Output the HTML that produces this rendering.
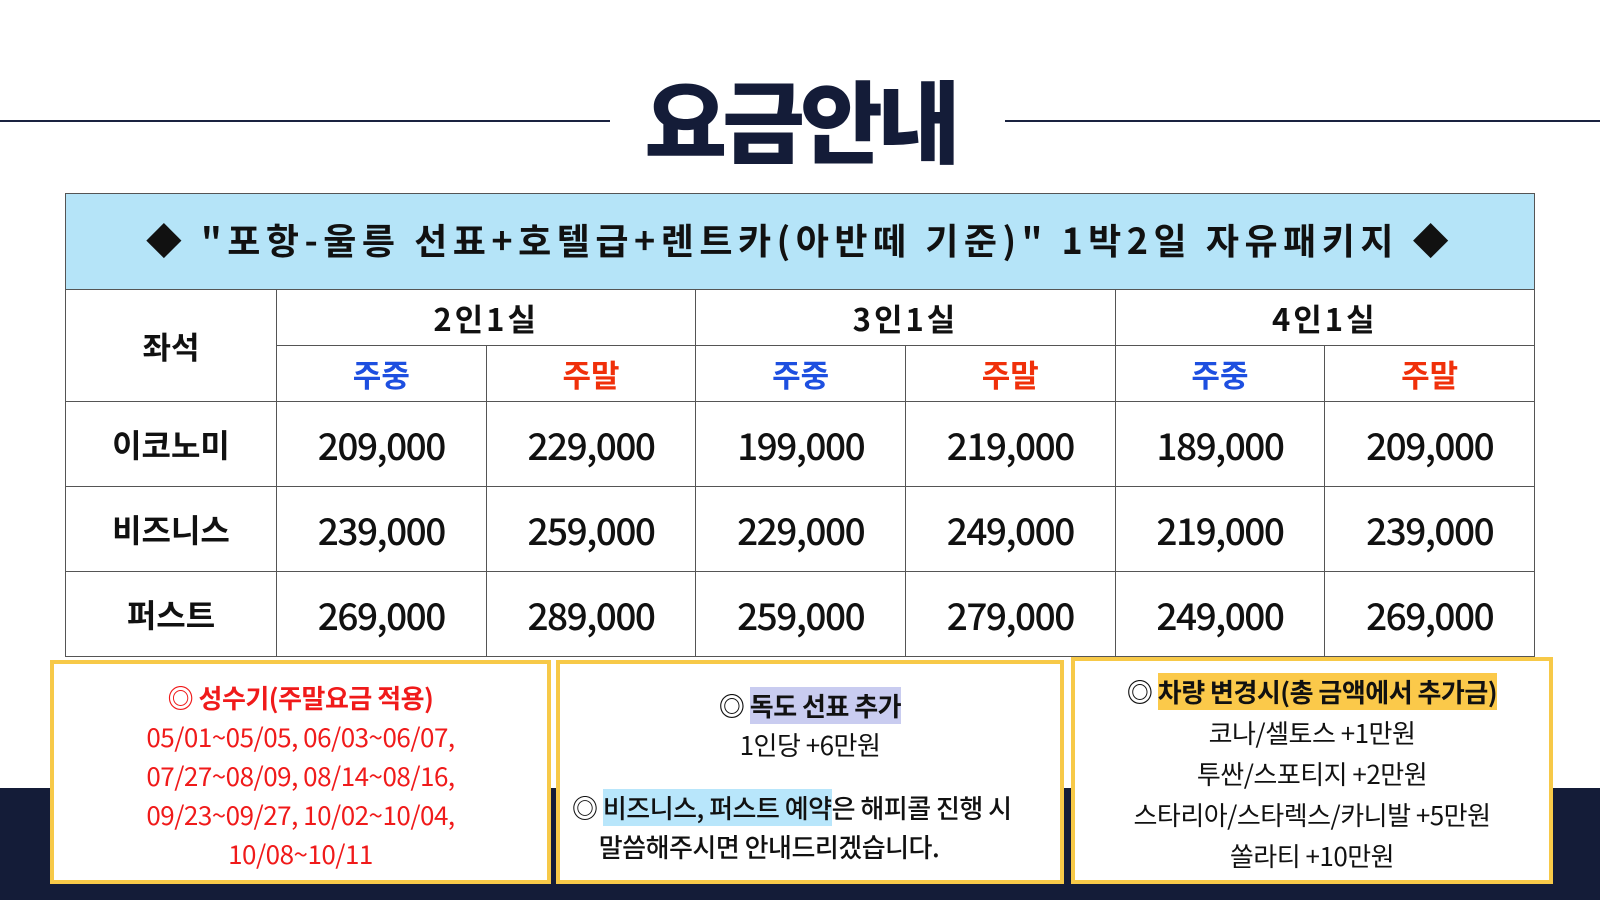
<!DOCTYPE html>
<html><head><meta charset="utf-8"><style>
*{margin:0;padding:0;box-sizing:border-box}
body{width:1600px;height:900px;position:relative;background:#fff;overflow:hidden;font-family:"Liberation Sans","Noto Sans CJK KR",sans-serif;color:#111}
.band{position:absolute;left:0;top:788px;width:1600px;height:112px;background:#141c38}
.line{position:absolute;top:120px;height:2px;background:#1a2340}
.title{position:absolute;left:0;width:1600px;top:62px;text-align:center;font-family:"Noto Sans CJK KR",sans-serif;font-weight:900;font-size:90px;line-height:110px;color:#141c38;letter-spacing:-5px}
table{position:absolute;left:65px;top:193px;width:1470px;border-collapse:collapse;table-layout:fixed;background:#fff}
td{border:1px solid #555;text-align:center;font-family:"Noto Sans CJK KR",sans-serif;font-weight:700}
.hd td{background:#b5e4f8;height:96px;font-size:36px;letter-spacing:5.5px;padding-bottom:6px}
.r1 td{height:56px;font-size:31px;letter-spacing:3px}
.r2 td{height:56px;font-size:31px}
.b{color:#1d4fe0}.r{color:#f0300a}
.d td{height:85px;font-size:37px;font-weight:500;letter-spacing:-1.5px}
.d td:first-child{font-size:32px;font-weight:700;letter-spacing:0}
.box{position:absolute;top:660px;height:224px;border:4px solid #f7c948;background:#fff;text-align:center;font-family:"Noto Sans CJK KR",sans-serif;font-size:26px;line-height:39px;letter-spacing:-0.5px}
</style></head><body>
<div class="band"></div>
<div class="line" style="left:0;width:610px"></div>
<div class="line" style="left:1005px;width:595px"></div>
<div class="title">요금안내</div>
<table>
<colgroup><col style="width:211px"><col><col><col><col><col><col></colgroup>
<tr class="hd"><td colspan="7">◆ "포항-울릉 선표+호텔급+렌트카(아반떼 기준)" 1박2일 자유패키지 ◆</td></tr>
<tr class="r1"><td rowspan="2" style="letter-spacing:0">좌석</td><td colspan="2">2인1실</td><td colspan="2">3인1실</td><td colspan="2">4인1실</td></tr>
<tr class="r2"><td class="b">주중</td><td class="r">주말</td><td class="b">주중</td><td class="r">주말</td><td class="b">주중</td><td class="r">주말</td></tr>
<tr class="d"><td>이코노미</td><td>209,000</td><td>229,000</td><td>199,000</td><td>219,000</td><td>189,000</td><td>209,000</td></tr>
<tr class="d"><td>비즈니스</td><td>239,000</td><td>259,000</td><td>229,000</td><td>249,000</td><td>219,000</td><td>239,000</td></tr>
<tr class="d"><td>퍼스트</td><td>269,000</td><td>289,000</td><td>259,000</td><td>279,000</td><td>249,000</td><td>269,000</td></tr>
</table>
<div class="box" style="left:50px;width:501px;color:#f01a1a;padding-top:14px">
<div style="font-weight:700">◎ 성수기(주말요금 적용)</div>
05/01~05/05, 06/03~06/07,<br>07/27~08/09, 08/14~08/16,<br>09/23~09/27, 10/02~10/04,<br>10/08~10/11</div>
<div class="box" style="left:556px;width:508px;padding-top:22px">
<div style="font-weight:700">◎ <span style="background:#c9ccf0">독도 선표 추가</span></div>
<div>1인당 +6만원</div>
<div style="height:24px"></div>
<div style="text-align:left;padding-left:12px;font-weight:500">◎ <span style="background:#b8e6fb">비즈니스, 퍼스트 예약</span>은 해피콜 진행 시<br>&nbsp;&nbsp;&nbsp;&nbsp;&nbsp;말씀해주시면 안내드리겠습니다.</div></div>
<div class="box" style="left:1071px;width:482px;top:657px;height:227px;padding-top:10px;line-height:41px">
<div style="font-weight:700">◎ <span style="background:#fbc94a">차량 변경시(총 금액에서 추가금)</span></div>
코나/셀토스 +1만원<br>투싼/스포티지 +2만원<br>스타리아/스타렉스/카니발 +5만원<br>쏠라티 +10만원</div>
</body></html>
